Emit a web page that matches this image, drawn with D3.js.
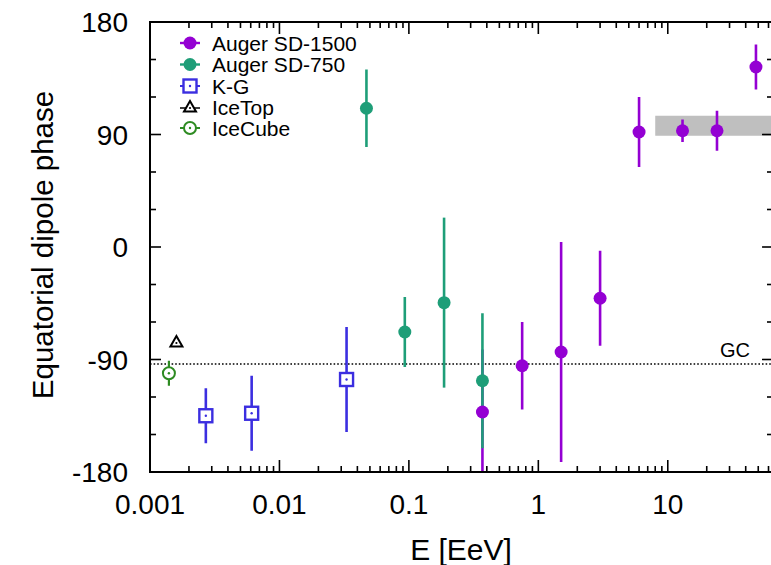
<!DOCTYPE html>
<html><head><meta charset="utf-8">
<script src="https://cdn.jsdelivr.net/npm/d3@7"></script>
<style>
html,body{margin:0;padding:0;background:#fff;}
svg{display:block;font-family:"Liberation Sans",Arial,Helvetica,sans-serif;}
</style></head>
<body>
<svg id="c" width="771" height="565"></svg>
<script>
// ---- data ----
const sd1500E     = [0.37, 0.75, 1.5, 3.0, 6.0, 13, 24, 48];
const sd1500Phase = [-132, -95, -84, -41, 92, 93, 93, 144];
const sd1500Err   = [50, 35, 88, 38, 28, 9, 16, 18];

const sd750E      = [0.047, 0.093, 0.187, 0.37];
const sd750Phase  = [111, -68, -44.5, -107];
const sd750Err    = [31, 28, 68, 54];

const kgE         = [0.0027, 0.0061, 0.033];
const kgPhase     = [-135, -133, -106];
const kgErr       = [22, 30, 42];

const iceTopE     = [0.0016];
const iceTopPhase = [-76];
const iceTopErr   = [0];

const iceCubeE     = [0.0014];
const iceCubePhase = [-101];
const iceCubeErr   = [10];

const gcPhase = -93.6;
const bandE = [8, 65];
const bandPhase = [89, 105];

const xTickValues = [0.001, 0.01, 0.1, 1, 10];
const xTickLabels = ["0.001", "0.01", "0.1", "1", "10"];
const yTickValues = [-180, -90, 0, 90, 180];
const yTickLabels = ["-180", "-90", "0", "90", "180"];

const legendNames = ["Auger SD-1500", "Auger SD-750", "K-G", "IceTop", "IceCube"];

// ---- layout ----
const L = 150, R = 773, T = 22, B = 472;
const svg = d3.select("#c");
const x = d3.scaleLog().domain([0.001, 65]).range([L, R]);
const y = d3.scaleLinear().domain([-180, 180]).range([B, T]);

const colPurple = "#9400d3", colGreen = "#1e9e78", colBlue = "#3b2ee0",
      colBlack = "#000000", colDkGreen = "#2e8b22";

svg.append("clipPath").attr("id", "pc").append("rect")
  .attr("x", L).attr("y", T).attr("width", R - L).attr("height", B - T);

const plot = svg.append("g").attr("clip-path", "url(#pc)");

// band
plot.append("rect")
  .attr("x", x(bandE[0])).attr("width", x(bandE[1]) - x(bandE[0]))
  .attr("y", y(bandPhase[1])).attr("height", y(bandPhase[0]) - y(bandPhase[1]))
  .attr("fill", "#bfbfbf");

// GC line
plot.append("line").attr("x1", L).attr("x2", R).attr("y1", y(gcPhase)).attr("y2", y(gcPhase))
  .attr("stroke", "#000").attr("stroke-width", 1.3).attr("stroke-dasharray", "1.6,2");
svg.append("text").attr("x", 750).attr("y", 357).attr("text-anchor", "end")
  .attr("font-size", 20).text("GC");

function series(E, P, Er) { return E.map((e, i) => ({e, p: P[i], er: Er[i]})); }
const s1500 = series(sd1500E, sd1500Phase, sd1500Err);
const s750 = series(sd750E, sd750Phase, sd750Err);
const sKG = series(kgE, kgPhase, kgErr);
const sTop = series(iceTopE, iceTopPhase, iceTopErr);
const sCube = series(iceCubeE, iceCubePhase, iceCubeErr);

function bars(data, col, w) {
  plot.append("g").selectAll("line").data(data.filter(d => d.er > 0)).join("line")
    .attr("x1", d => x(d.e)).attr("x2", d => x(d.e))
    .attr("y1", d => y(d.p + d.er)).attr("y2", d => y(d.p - d.er))
    .attr("stroke", col).attr("stroke-width", w);
}
bars(s1500, colPurple, 2.6);
bars(s750, colGreen, 2.6);
bars(sKG, colBlue, 2.6);
bars(sCube, colDkGreen, 2.2);

function dots(data, col) {
  plot.append("g").selectAll("circle").data(data).join("circle")
    .attr("cx", d => x(d.e)).attr("cy", d => y(d.p)).attr("r", 6.5).attr("fill", col);
}
dots(s750, colGreen);
dots(s1500, colPurple);

function square(g, cx, cy, col) {
  g.append("rect").attr("x", cx - 6.5).attr("y", cy - 6.5).attr("width", 13).attr("height", 13)
    .attr("fill", "#fff").attr("stroke", col).attr("stroke-width", 2.4);
  g.append("circle").attr("cx", cx).attr("cy", cy).attr("r", 1.2).attr("fill", col);
}
function triangle(g, cx, cy, col) {
  g.append("path").attr("d", `M${cx - 6},${cy + 4.5}L${cx + 6},${cy + 4.5}L${cx},${cy - 6}Z`)
    .attr("fill", "#fff").attr("stroke", col).attr("stroke-width", 2);
  g.append("circle").attr("cx", cx).attr("cy", cy + 1).attr("r", 1.1).attr("fill", col);
}
function ocircle(g, cx, cy, col) {
  g.append("circle").attr("cx", cx).attr("cy", cy).attr("r", 6).attr("fill", "#fff")
    .attr("stroke", col).attr("stroke-width", 2);
  g.append("circle").attr("cx", cx).attr("cy", cy).attr("r", 1.2).attr("fill", col);
}
sKG.forEach(d => square(plot, x(d.e), y(d.p), colBlue));
sTop.forEach(d => triangle(plot, x(d.e), y(d.p), colBlack));
sCube.forEach(d => ocircle(plot, x(d.e), y(d.p), colDkGreen));

// ---- axes ----
const minorX = [];
for (let dec = -3; dec <= 1; dec++) for (let m = 1; m <= 9; m++) {
  const v = m * Math.pow(10, dec);
  if (v <= 65) minorX.push(v);
}
const minorY = d3.range(-180, 181, 30);

const axG = svg.append("g").attr("stroke", "#000").attr("stroke-width", 1.6);
minorX.forEach(v => {
  const major = xTickValues.includes(v);
  const len = major ? 12 : 6;
  axG.append("line").attr("x1", x(v)).attr("x2", x(v)).attr("y1", B).attr("y2", B - len);
  axG.append("line").attr("x1", x(v)).attr("x2", x(v)).attr("y1", T).attr("y2", T + len);
});
minorY.forEach(v => {
  const major = yTickValues.includes(v);
  const len = major ? 11 : 6;
  axG.append("line").attr("x1", L).attr("x2", L + len).attr("y1", y(v)).attr("y2", y(v));
  axG.append("line").attr("x1", R).attr("x2", R - len).attr("y1", y(v)).attr("y2", y(v));
});
svg.append("rect").attr("x", L).attr("y", T).attr("width", R - L).attr("height", B - T)
  .attr("fill", "none").attr("stroke", "#000").attr("stroke-width", 2);

// tick labels
svg.append("g").selectAll("text").data(xTickValues).join("text")
  .attr("x", d => x(d)).attr("y", 514).attr("text-anchor", "middle")
  .attr("font-size", 28).text((d, i) => xTickLabels[i]);
svg.append("g").selectAll("text").data(yTickValues).join("text")
  .attr("x", 128).attr("y", d => y(d) + 10).attr("text-anchor", "end")
  .attr("font-size", 28).text((d, i) => yTickLabels[i]);

// axis titles
svg.append("text").attr("x", 461).attr("y", 560).attr("text-anchor", "middle")
  .attr("font-size", 30).text("E [EeV]");
svg.append("text").attr("transform", "translate(53,245) rotate(-90)")
  .attr("text-anchor", "middle").attr("font-size", 29.5).text("Equatorial dipole phase");

// ---- legend ----
const legY = [43, 64.5, 86, 107, 128];
const lg = svg.append("g");
legendNames.forEach((name, i) => {
  lg.append("text").attr("x", 212).attr("y", legY[i] + 7.8).attr("font-size", 21).text(name);
});
lg.append("line").attr("x1", 180).attr("x2", 200).attr("y1", legY[0]).attr("y2", legY[0]).attr("stroke", colPurple).attr("stroke-width", 2.4);
lg.append("circle").attr("cx", 190).attr("cy", legY[0]).attr("r", 6.5).attr("fill", colPurple);
lg.append("line").attr("x1", 180).attr("x2", 200).attr("y1", legY[1]).attr("y2", legY[1]).attr("stroke", colGreen).attr("stroke-width", 2.4);
lg.append("circle").attr("cx", 190).attr("cy", legY[1]).attr("r", 6.5).attr("fill", colGreen);
lg.append("line").attr("x1", 180).attr("x2", 200).attr("y1", legY[2]).attr("y2", legY[2]).attr("stroke", colBlue).attr("stroke-width", 2);
square(lg, 190, legY[2], colBlue);
lg.append("line").attr("x1", 180).attr("x2", 200).attr("y1", legY[3] + 1).attr("y2", legY[3] + 1).attr("stroke", colBlack).attr("stroke-width", 1.5);
triangle(lg, 190, legY[3], colBlack);
lg.append("line").attr("x1", 180).attr("x2", 200).attr("y1", legY[4]).attr("y2", legY[4]).attr("stroke", colDkGreen).attr("stroke-width", 2);
ocircle(lg, 190, legY[4], colDkGreen);
</script>
</body></html>
